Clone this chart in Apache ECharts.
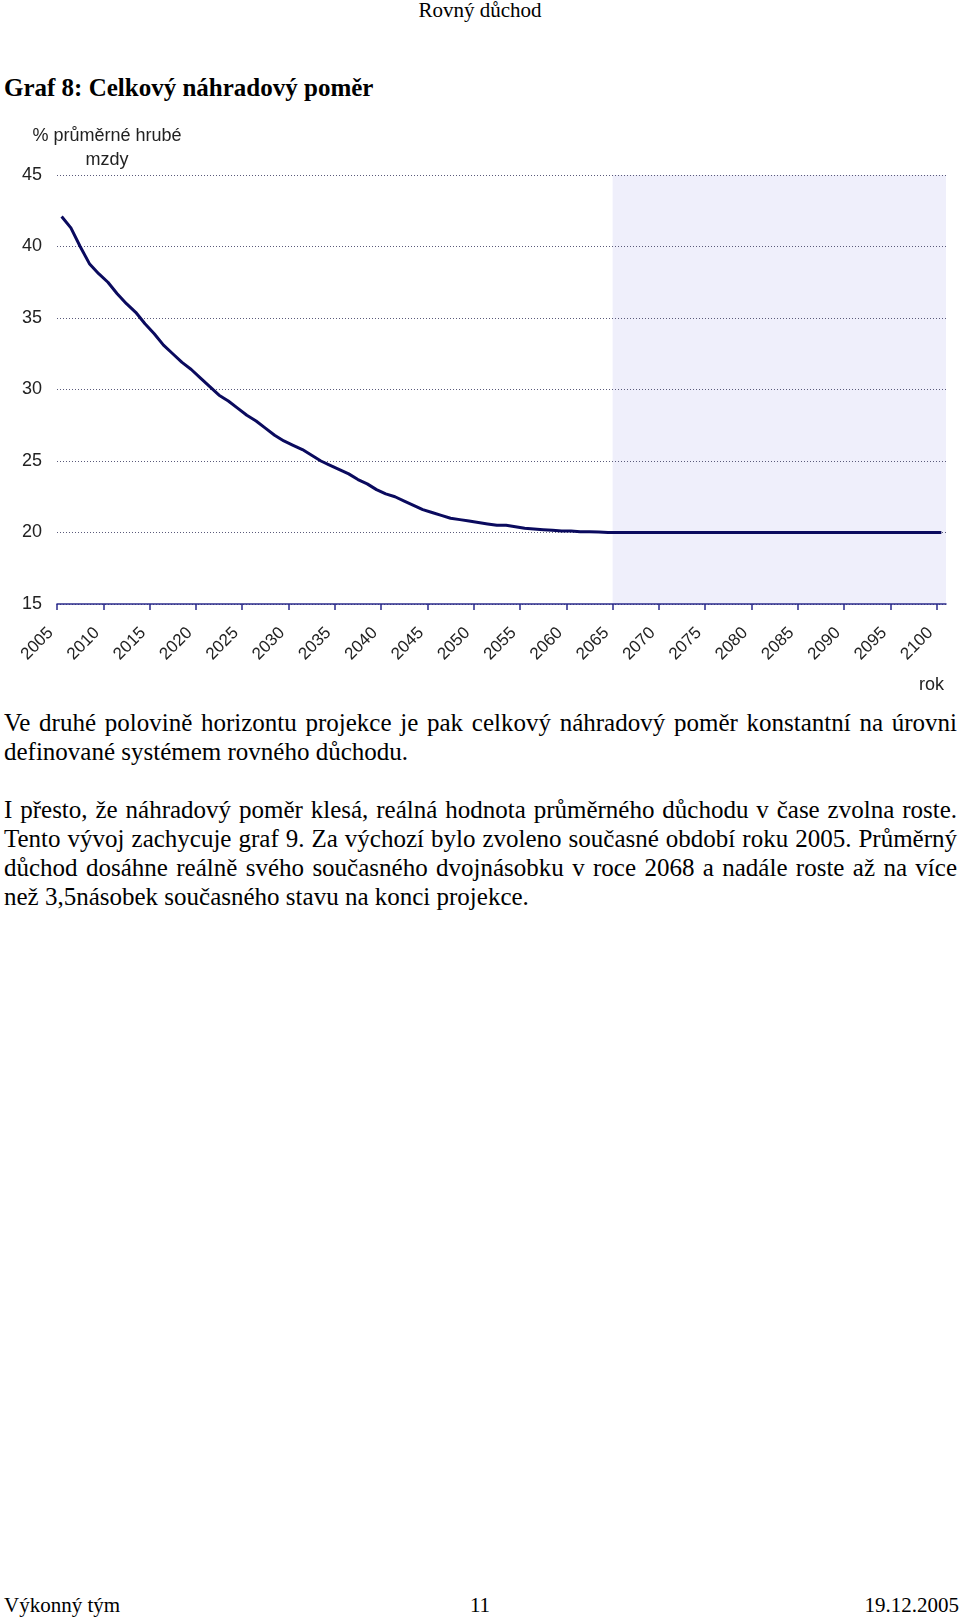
<!DOCTYPE html>
<html>
<head>
<meta charset="utf-8">
<script src="https://cdn.jsdelivr.net/npm/echarts@6/dist/echarts.min.js"></script>
<style>
  html, body { margin: 0; padding: 0; background: #fff; }
  body { width: 960px; height: 1624px; position: relative; overflow: hidden; font-family: "Liberation Serif", "Times New Roman", serif; color: #000; }
  #chart { position: absolute; left: 0; top: 0; width: 960px; height: 700px; }
  .t { position: absolute; white-space: nowrap; line-height: 1; }
  .line { position: absolute; left: 4px; width: 953px; font-size: 25px; line-height: 1; white-space: nowrap; }
  .j { text-align: justify; text-align-last: justify; }
</style>
</head>
<body>
<div class="t" style="left:0;width:960px;text-align:center;top:0px;font-size:21px;">Rovný důchod</div>
<div class="t" style="left:4px;top:75px;font-size:25px;font-weight:bold;">Graf 8: Celkový náhradový poměr</div>
<div id="chart"></div>
<div class="line j" style="top:710px;">Ve druhé polovině horizontu projekce je pak celkový náhradový poměr konstantní na úrovni</div>
<div class="line" style="top:739px;">definované systémem rovného důchodu.</div>
<div class="line j" style="top:797px;">I přesto, že náhradový poměr klesá, reálná hodnota průměrného důchodu v čase zvolna roste.</div>
<div class="line j" style="top:826px;">Tento vývoj zachycuje graf 9. Za výchozí bylo zvoleno současné období roku 2005. Průměrný</div>
<div class="line j" style="top:855px;">důchod dosáhne reálně svého současného dvojnásobku v roce 2068 a nadále roste až na více</div>
<div class="line" style="top:884px;">než 3,5násobek současného stavu na konci projekce.</div>
<div class="t" style="left:4px;top:1595px;font-size:21px;">Výkonný tým</div>
<div class="t" style="left:0;width:960px;text-align:center;top:1595px;font-size:21px;">11</div>
<div class="t" style="right:1px;top:1595px;font-size:21px;">19.12.2005</div>
<script>
const years = [
  2005,2006,2007,2008,2009,2010,2011,2012,2013,2014,
  2015,2016,2017,2018,2019,2020,2021,2022,2023,2024,
  2025,2026,2027,2028,2029,2030,2031,2032,2033,2034,
  2035,2036,2037,2038,2039,2040,2041,2042,2043,2044,
  2045,2046,2047,2048,2049,2050,2051,2052,2053,2054,
  2055,2056,2057,2058,2059,2060,2061,2062,2063,2064,
  2065,2066,2067,2068,2069,2070,2071,2072,2073,2074,
  2075,2076,2077,2078,2079,2080,2081,2082,2083,2084,
  2085,2086,2087,2088,2089,2090,2091,2092,2093,2094,
  2095,2096,2097,2098,2099,2100
];
const replacementRatio = [
  42.1,41.3,40.0,38.8,38.1,37.5,36.7,36.0,35.4,34.6,
  33.9,33.1,32.5,31.9,31.4,30.8,30.2,29.6,29.2,28.7,
  28.2,27.8,27.3,26.8,26.4,26.1,25.8,25.4,25.0,24.7,
  24.4,24.1,23.7,23.4,23.0,22.7,22.5,22.2,21.9,21.6,
  21.4,21.2,21.0,20.9,20.8,20.7,20.6,20.5,20.5,20.4,
  20.3,20.25,20.2,20.15,20.1,20.1,20.05,20.05,20.03,20.0,
  20.0,20.0,20.0,20.0,20.0,20.0,20.0,20.0,20.0,20.0,
  20.0,20.0,20.0,20.0,20.0,20.0,20.0,20.0,20.0,20.0,
  20.0,20.0,20.0,20.0,20.0,20.0,20.0,20.0,20.0,20.0,
  20.0,20.0,20.0,20.0,20.0,20.0
];
const xTickYears = [2005,2010,2015,2020,2025,2030,2035,2040,2045,2050,2055,2060,2065,2070,2075,2080,2085,2090,2095,2100];
const yTicks = [15,20,25,30,35,40,45];
const shadedFrom = 2065;
const yAxisTitle = '% průměrné hrubé\nmzdy';
const xAxisTitle = 'rok';

const firstYear = years[0];
const slotEnd = years.length; // axis spans one slot per year
const toPos = y => y - firstYear + 0.5;      // point at centre of its year slot
const tickPos = y => y - firstYear;          // tick at left edge of year slot

const chart = echarts.init(document.getElementById('chart'), null, { renderer: 'canvas' });
chart.setOption({
  animation: false,
  grid: { left: 57, right: 14, top: 175, bottom: 96, containLabel: false },
  xAxis: {
    type: 'value', min: 0, max: slotEnd, interval: 5, z: 2,
    axisLine: { show: true, lineStyle: { color: '#2b2b8c', width: 1.5 } },
    axisTick: { show: true, length: 6, inside: false, lineStyle: { color: '#2b2b8c', width: 1.5 },
                customValues: xTickYears.map(tickPos) },
    axisLabel: {
      rotate: 45, margin: 20, fontSize: 17, color: '#222', fontFamily: 'Liberation Sans, Arial, sans-serif',
      padding: [0, 9, 0, 0],
      customValues: xTickYears.map(tickPos),
      showMaxLabel: true, showMinLabel: true,
      formatter: v => (Math.abs(v % 5) < 1e-6 && v < slotEnd) ? String(firstYear + v) : ''
    },
    splitLine: { show: false }
  },
  yAxis: {
    type: 'value', min: yTicks[0], max: yTicks[yTicks.length - 1], interval: 5, z: 2,
    axisLine: { show: false }, axisTick: { show: false },
    axisLabel: { fontSize: 18, color: '#222', margin: 15, fontFamily: 'Liberation Sans, Arial, sans-serif' },
    splitLine: { show: true, lineStyle: { color: '#5a5a7a', type: [1, 2], width: 1 } }
  },
  graphic: [
    { type: 'text', x: 107, y: 124, style: { text: yAxisTitle, fontSize: 18, fontFamily: 'Liberation Sans, Arial, sans-serif', fill: '#222', align: 'center', verticalAlign: 'top', lineHeight: 24 } },
    { type: 'text', x: 919, y: 676, style: { text: xAxisTitle, fontSize: 18, fontFamily: 'Liberation Sans, Arial, sans-serif', fill: '#222', verticalAlign: 'top' } }
  ],
  series: [{
    type: 'line', z: 3,
    data: years.map((y, i) => [toPos(y), replacementRatio[i]]),
    showSymbol: false, symbol: 'none',
    lineStyle: { color: '#0a0a5e', width: 3 },
    markArea: {
      silent: true, z: 1,
      itemStyle: { color: '#efeffb' },
      data: [[{ xAxis: tickPos(shadedFrom) }, { xAxis: slotEnd }]]
    }
  }]
});
</script>
</body>
</html>
